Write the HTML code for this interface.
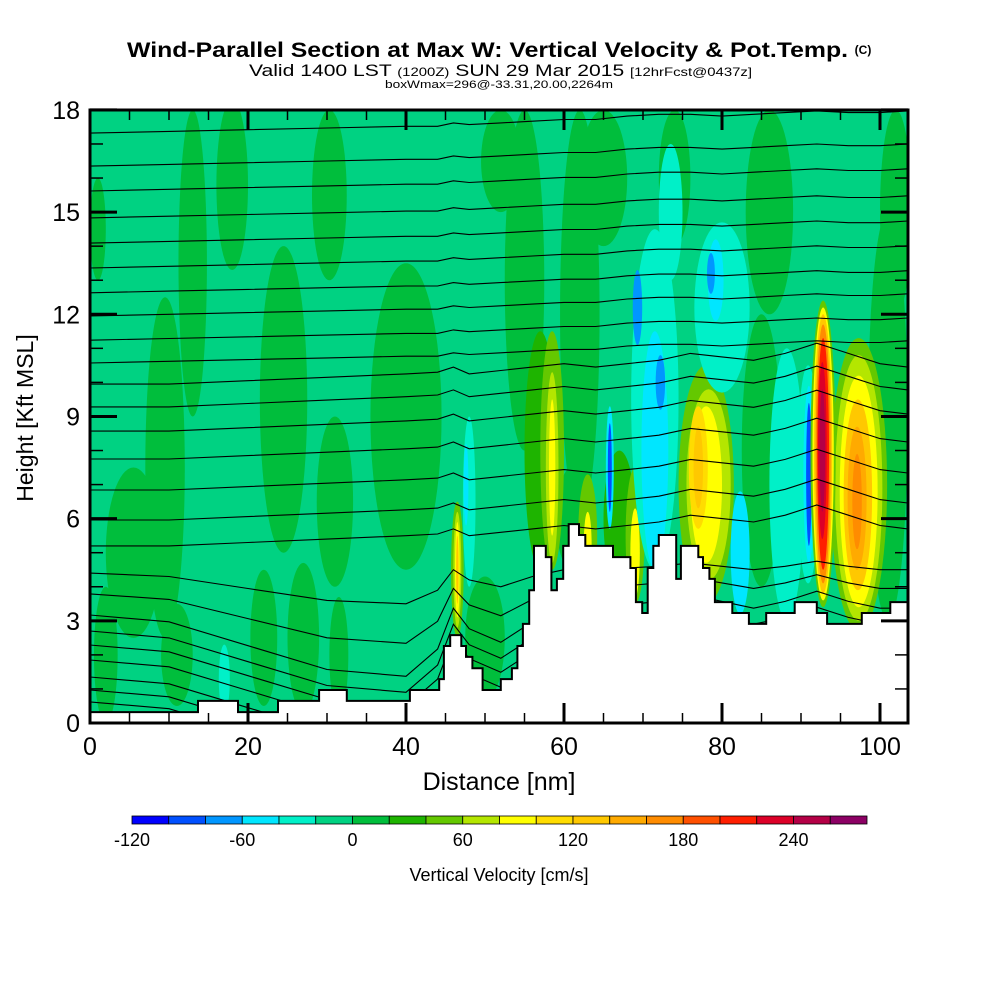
<!DOCTYPE html>
<html><head><meta charset="utf-8">
<style>
html,body{margin:0;padding:0;background:#fff;}
body{width:1000px;height:1000px;overflow:hidden;font-family:"Liberation Sans",Arial,sans-serif;}
</style></head>
<body>
<svg id="chart" width="1000" height="1000" viewBox="0 0 1000 1000" xmlns="http://www.w3.org/2000/svg" font-family="Liberation Sans, Arial, sans-serif">
  <text x="127" y="57" font-size="21" font-weight="bold" textLength="721" lengthAdjust="spacingAndGlyphs">Wind-Parallel Section at Max W: Vertical Velocity &amp; Pot.Temp.</text>
  <text x="863" y="54" text-anchor="middle" font-size="12" font-weight="bold">(C)</text>
  <text x="249" y="76" font-size="17" textLength="503" lengthAdjust="spacingAndGlyphs">Valid 1400 LST <tspan font-size="12">(1200Z)</tspan> SUN 29 Mar 2015 <tspan font-size="12">[12hrFcst@0437z]</tspan></text>
  <text x="385" y="88" font-size="11" textLength="228" lengthAdjust="spacingAndGlyphs">boxWmax=296@-33.31,20.00,2264m</text>
  <defs><clipPath id="plotclip"><rect x="90" y="110" width="818" height="613"/></clipPath></defs>
  <g id="plot" clip-path="url(#plotclip)"></g>
  <g id="axes"></g>
  <g id="cbar"></g>
</svg>
<script>
// ---------- data ----------
const binEdges = [-120,-100,-80,-60,-40,-20,0,20,40,60,80,100,120,140,160,180,200,220,240,260,280];
const binColors = ["#0000ff","#0050ff","#0096ff","#00e6ff","#00f0c8","#00d282","#00be3c","#1eb400","#64c800","#b4e600","#ffff00","#ffdc00","#ffc800","#ffaa00","#ff8c00","#ff5000","#ff1e00","#dc0028","#b40046","#8c0064"];
const cbarLabels = [-120,-60,0,60,120,180,240];
const xTicks = [0,20,40,60,80,100];
const yTicks = [0,3,6,9,12,15,18];
const backgroundW = -10;
// velocity features: center distance (nm), center height (kft), half-width (nm), half-height (kft), w (cm/s)
const featX  = [1,13,18,24.5,9.5,30.3,40,31,5.5,22,27,31.5,11,2,50,55,62,52,65,86,85,101,102,61,74,
  57,67,78,78.3,78,77,77,58.5,58.5,58.5,46.5,46.5,46.5,46.5,69,69,63,63,
  71.5,71.5,69.3,72.2,80,79.2,78.6,73.5,65.8,65.8,48,47.6,17,88.2,82.3,
  97.3,97.3,97.3,97.2,97.1,97.1,90.9,91,91,92.8,92.8,92.8,92.8,92.8,92.7,92.7];
const featY  = [14.5,13.5,15.8,9.5,7.5,15.5,9,6.5,5,2.5,2.5,2,2,2,2.5,13,12,16.5,16,15,8,9,15,6,16,
  8,6,7,7,7,7.5,7.5,8,7.5,7.5,4.5,4.5,4.5,4.5,5.5,5,5.5,5.2,
  9.5,8,12.2,10,12.2,13,13.2,15,7.5,7.5,6.5,7,1.3,7,5,
  7,6.9,6.8,6.7,6.6,6.5,7.3,7.3,7.3,7.9,7.9,7.9,7.9,7.9,8,8];
const featRX = [1,1.8,2,3,2.5,2.2,4.5,2.3,3.5,1.7,2,1.2,2,1.5,2.5,2.5,2.5,2.5,3,3,2.5,2.5,2,2,2,
  2,2,3.5,2.8,2,1.2,0.6,1.5,0.8,0.4,0.8,0.5,0.3,0.15,1.2,0.6,1.2,0.5,
  3,1.7,0.6,0.6,3.5,1,0.5,1.5,0.5,0.25,0.8,0.3,0.7,2.2,1.2,
  3.6,3,2.4,1.8,1.2,0.6,1.4,0.7,0.35,1.6,1.35,1.15,0.95,0.75,0.55,0.35];
const featRY = [1.5,4.5,2.5,4.5,5,2.5,4.5,2.5,2.5,2,2.2,1.7,1.5,2,1.8,5,6,1.5,2,3,4,6,3,1.5,2,
  3.5,2,3.5,2.8,2.3,1.8,1.2,3.5,2.8,2,2,1.7,1.4,1,2,1.3,1.8,1,
  5,3.5,1.1,0.8,2.5,1.2,0.6,2,1.8,1.3,2.5,1.2,1,4,1.8,
  4.3,3.9,3.4,2.8,2.1,1.4,3.2,2.6,2.1,4.5,4.3,4.1,3.8,3.4,2.6,1.8];
const featV  = [10,10,10,10,10,10,10,10,10,10,10,10,10,10,10,10,10,10,10,10,10,10,10,10,10,
  30,30,50,70,90,110,130,50,70,90,50,70,90,130,50,90,50,90,
  -30,-50,-70,-70,-30,-50,-70,-30,-50,-90,-30,-50,-30,-30,-50,
  50,70,90,130,150,170,-30,-50,-90,50,90,130,170,210,230,250];
// terrain step profile: segment start distance (nm) and segment height (kft)
const terrX = [0,13.67,18.73,23.8,29.0,32.5,40.5,44.2,44.8,45.6,47.0,47.6,48.4,49.7,52.0,53.4,54.1,54.8,55.6,56.2,57.7,58.4,59.1,59.9,60.6,61.9,62.7,66.2,68.4,69.1,69.9,70.6,71.3,72.0,74.2,74.8,77.0,77.6,78.4,79.1,81.3,83.4,85.6,89.2,92.0,93.3,97.7,101.3];
const terrH = [0.32,0.65,0.32,0.65,0.97,0.65,0.97,1.29,2.26,2.58,2.26,1.94,1.61,0.97,1.29,1.61,2.26,2.91,3.90,5.20,4.87,3.90,4.23,5.20,5.84,5.52,5.20,4.87,4.55,3.55,3.23,4.55,5.20,5.52,4.23,5.20,4.87,4.55,4.23,3.55,3.23,2.91,3.23,3.55,3.23,2.91,3.23,3.55];
const terrEnd = 103.5;
// potential temperature contours
const thetaBase = [17.32,16.35,15.62,14.83,14.09,13.36,12.63,11.95,11.24,10.57,9.95,9.28,8.57,7.75,6.84,5.96,5.20,4.40,3.79,3.17,2.70,2.29,1.85,1.35,0.97,0.62];
const thetaGridX = [0,10,20,30,40,44,46,48,52,56,60,64,68,72,76,80,84,88,92,96,100,103.5];
const upperOff = [0,0.05,0.1,0.15,0.2,0.2,0.3,0.25,0.3,0.35,0.4,0.4,0.5,0.55,0.55,0.5,0.55,0.6,0.65,0.6,0.6,0.65];
const midOff   = [0,0,0.1,0.2,0.3,0.35,0.5,0.3,0.4,0.5,0.6,0.5,0.6,0.7,0.9,0.8,0.7,0.9,1.2,0.9,0.6,0.5];
const lowOff   = [0,-0.2,-0.9,-1.6,-1.8,-1.0,0.2,-0.4,-0.8,-0.2,0.2,0.2,0.3,0.4,0.6,0.4,0.2,0.4,0.7,0.4,0.2,0.2];

// ---------- scales ----------
const X0=90, PXNM=7.9, Y0=723, PXK=34.06;
const sx = d => X0 + d*PXNM;
const sy = h => Y0 - h*PXK;
const NS="http://www.w3.org/2000/svg";
function colorFor(v){for(let i=0;i<binColors.length;i++){if(v<binEdges[i+1])return binColors[i];}return binColors[binColors.length-1];}
function mk(tag,attrs,parent){const e=document.createElementNS(NS,tag);for(const k in attrs)e.setAttribute(k,attrs[k]);parent.appendChild(e);return e;}

const plot=document.getElementById('plot');
const bg=mk('rect',{x:90,y:110,width:818,height:613,fill:colorFor(backgroundW)},plot);



for(let i=0;i<featX.length;i++){
  const e=mk('ellipse',{cx:sx(featX[i]),cy:sy(featY[i]),rx:featRX[i]*PXNM,ry:featRY[i]*PXK,fill:colorFor(featV[i])},plot);
  
  
}

// theta contours
const thetaG=mk('g',{fill:'none',stroke:'#000','stroke-width':1.1},plot);


thetaBase.forEach((b)=>{
  const off = b>10 ? upperOff : (b>4.5 ? midOff : lowOff);
  const scale = b>4.5 ? 1 : Math.min(1,(4.6-b)/2+0.4);
  const pts = thetaGridX.map((gx,j)=>sx(gx).toFixed(1)+','+sy(b+off[j]*scale).toFixed(1)).join(' ');
  const pl=mk('polyline',{points:pts},thetaG);
  
  
});

// terrain
let d='M'+sx(0)+','+sy(-1);
for(let i=0;i<terrX.length;i++){
  const xe = i+1<terrX.length ? terrX[i+1] : terrEnd+0.5;
  d+=' L'+sx(terrX[i]).toFixed(1)+','+sy(terrH[i]).toFixed(1)+' L'+sx(xe).toFixed(1)+','+sy(terrH[i]).toFixed(1);
}
d+=' L'+sx(terrEnd+0.5)+','+sy(-1)+' Z';
const terr=mk('path',{d:d,fill:'#fff',stroke:'#000','stroke-width':2},plot);



// axes
const axes=document.getElementById('axes');
const frame=mk('rect',{x:90,y:110,width:818,height:613,fill:'none',stroke:'#000','stroke-width':3},axes);


for(let h=0;h<=18;h++){
  const major = h%3===0; const L = major?27:13; const y=sy(h);
  const t1=mk('line',{x1:90,y1:y,x2:90+L,y2:y,stroke:'#000','stroke-width':major?3:1.5},axes);
  
  
  const t2=mk('line',{x1:908,y1:y,x2:908-L,y2:y,stroke:'#000','stroke-width':major?3:1.5},axes);
  
  
}
yTicks.forEach(v=>{
  const t=mk('text',{x:80,y:sy(v)+9,'text-anchor':'end','font-size':25},axes);
  t.textContent=v;
  
  
});
for(let n=0;n<=100;n+=5){
  const major=n%20===0; const L=major?20:10; const x=sx(n);
  const t1=mk('line',{x1:x,y1:723,x2:x,y2:723-L,stroke:'#000','stroke-width':major?3:1.5},axes);
  
  
  const t2=mk('line',{x1:x,y1:110,x2:x,y2:110+L,stroke:'#000','stroke-width':major?3:1.5},axes);
  
  
}
xTicks.forEach(v=>{
  const t=mk('text',{x:sx(v),y:755,'text-anchor':'middle','font-size':25},axes);
  t.textContent=v;
  
  
});
const xt=mk('text',{x:499,y:790,'text-anchor':'middle','font-size':25},axes);
xt.textContent='Distance [nm]';


const yt=mk('text',{x:0,y:0,'text-anchor':'middle','font-size':23,transform:'translate(33,418) rotate(-90)'},axes);
yt.textContent='Height [Kft MSL]';



// colorbar
const cb=document.getElementById('cbar');
const CB0=132, CB1=867, CBY=816, CBH=8;
const cx = v => CB0 + (v-binEdges[0])/(binEdges[binEdges.length-1]-binEdges[0])*(CB1-CB0);
binColors.forEach((c,i)=>{
  const r=mk('rect',{x:cx(binEdges[i]),y:CBY,width:cx(binEdges[i+1])-cx(binEdges[i]),height:CBH,fill:c,stroke:'#000','stroke-width':0.8},cb);
  
  
});
cbarLabels.forEach(v=>{
  const t=mk('text',{x:cx(v),y:846,'text-anchor':'middle','font-size':18},cb);
  t.textContent=v;
  
  
});
const ct=mk('text',{x:499,y:881,'text-anchor':'middle','font-size':18},cb);
ct.textContent='Vertical Velocity [cm/s]';


</script>
</body></html>
